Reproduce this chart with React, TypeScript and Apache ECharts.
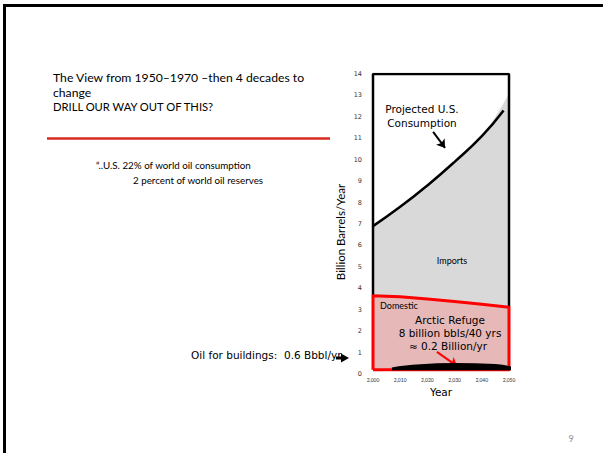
import React, { useEffect, useRef } from "react";
import * as echarts from "echarts";

// ---- data ----
const consumptionYears = [2000, 2010, 2020, 2030, 2040, 2048];
const consumptionValues = [6.9, 7.8, 8.8, 9.9, 11.1, 12.3];
const totalYears = [2000, 2010, 2020, 2030, 2040, 2050];
const totalValues = [6.9, 7.8, 8.8, 9.9, 11.1, 13.1];
const domesticYears = [2000, 2010, 2020, 2030, 2040, 2050];
const domesticValues = [3.65, 3.6, 3.5, 3.38, 3.25, 3.12];
const domesticFloor = 0.2;
const refugeYears = [2007, 2012, 2030, 2045, 2052];
const refugeValues = [0.24, 0.33, 0.44, 0.4, 0.22];
const xTicks = [2000, 2010, 2020, 2030, 2040, 2050];
const yMax = 14;

const pairs = (xs: number[], ys: number[]) => xs.map((x, i) => [x, ys[i]]);

export default function App() {
  const ref = useRef<HTMLDivElement>(null);
  useEffect(() => {
    const chart = echarts.init(ref.current!, undefined, { renderer: "svg" });
    const hand = "DejaVu Sans";
    const sans = "Lato";
    const domPoly = [
      [xTicks[0], domesticFloor],
      ...pairs(domesticYears, domesticValues),
      [xTicks[xTicks.length - 1], domesticFloor],
      [xTicks[0], domesticFloor],
    ];
    const boxPoly = [
      [xTicks[0], domesticValues[0]],
      [xTicks[0], yMax],
      [xTicks[xTicks.length - 1], yMax],
      [xTicks[xTicks.length - 1], domesticValues[domesticValues.length - 1]],
    ];
    const txt = (x: number, y: number, text: string, fontSize: number, fontFamily: string, align = "left", extra: any = {}) => ({
      type: "text",
      x,
      y,
      z: 100,
      ...extra,
      style: { text, fontSize, fontFamily, fill: "#000", align, verticalAlign: "middle" },
    });
    chart.setOption({
      animation: false,
      backgroundColor: "#fff",
      grid: { left: 373, top: 74, width: 136, height: 300 },
      xAxis: {
        type: "value",
        min: 2000,
        max: 2050,
        interval: 10,
        axisLine: { show: false },
        axisTick: { show: false },
        splitLine: { show: false },
        axisLabel: { fontSize: 5, fontFamily: sans, color: "#333", margin: 3 },
        name: "Year",
        nameLocation: "middle",
        nameGap: 11,
        nameTextStyle: { fontSize: 10.5, fontFamily: hand, color: "#000" },
      },
      yAxis: {
        type: "value",
        min: 0,
        max: yMax,
        interval: 1,
        axisLine: { show: false },
        axisTick: { show: false },
        splitLine: { show: false },
        axisLabel: { fontSize: 6.5, fontFamily: hand, color: "#333", margin: 11 },
      },
      series: [
        {
          type: "line",
          data: pairs(totalYears, totalValues),
          smooth: true,
          symbol: "none",
          lineStyle: { width: 0, opacity: 0 },
          areaStyle: { color: "#d9d9d9", opacity: 1, origin: domesticFloor },
          silent: true,
          z: 1,
        },
        {
          type: "line",
          data: boxPoly,
          symbol: "none",
          lineStyle: { color: "#000", width: 2.5 },
          silent: true,
          z: 2,
        },
        {
          type: "line",
          data: pairs(domesticYears, domesticValues),
          symbol: "none",
          lineStyle: { width: 0, opacity: 0 },
          areaStyle: { color: "#e6b9b8", opacity: 1, origin: domesticFloor },
          silent: true,
          z: 3,
        },
        {
          type: "line",
          data: domPoly,
          symbol: "none",
          lineStyle: { color: "#ff0000", width: 3, join: "round" },
          silent: true,
          z: 4,
        },
        {
          type: "line",
          data: pairs(consumptionYears, consumptionValues),
          smooth: true,
          symbol: "none",
          lineStyle: { color: "#000", width: 2.5 },
          silent: true,
          z: 5,
        },
        {
          type: "line",
          data: pairs(refugeYears, refugeValues),
          smooth: true,
          symbol: "none",
          clip: false,
          lineStyle: { color: "#000", width: 3 },
          areaStyle: { color: "#000", opacity: 1, origin: 0.17 },
          silent: true,
          z: 6,
          markLine: {
            symbol: ["none", "arrow"],
            symbolSize: 8,
            silent: true,
            label: { show: false },
            emphasis: { disabled: true },
            animation: false,
            lineStyle: { color: "#000", width: 2, type: "solid" },
            data: [
              [{ coord: [2022.1, 11.3] }, { coord: [2026.5, 10.55] }],
              [
                { coord: [2023.5, 1.03], lineStyle: { color: "#ff0000", width: 2, type: "solid" }, itemStyle: { color: "#ff0000" } },
                { coord: [2030.9, 0.37], itemStyle: { color: "#ff0000" } },
              ],
            ],
          },
        },
      ],
      graphic: [
        { type: "line", shape: { x1: 3, y1: 5.5, x2: 603, y2: 5.5 }, style: { stroke: "#000", lineWidth: 3 } },
        { type: "line", shape: { x1: 4.5, y1: 4, x2: 4.5, y2: 453 }, style: { stroke: "#000", lineWidth: 3 } },
        { type: "line", shape: { x1: 47, y1: 138.5, x2: 330, y2: 138.5 }, style: { stroke: "#d42a1f", lineWidth: 2.5 } },
        txt(53, 77.5, "The View from 1950\u20131970 \u2013then 4 decades to", 12.2, sans),
        txt(53, 92.5, "change", 12.2, sans),
        txt(53, 106.5, "DRILL OUR WAY OUT OF THIS?", 11.2, sans),
        txt(96, 165, "\u201C..U.S. 22% of world oil consumption", 9.8, sans),
        txt(133, 180, "2 percent of world oil reserves", 9.8, sans),
        txt(422, 109, "Projected U.S.", 10.5, hand, "center"),
        txt(422, 123, "Consumption", 10.5, hand, "center"),
        txt(452, 260, "Imports", 9, sans, "center"),
        txt(380, 305, "Domestic", 9, sans),
        txt(450, 320, "Arctic Refuge", 10.5, hand, "center"),
        txt(450, 333, "8 billion bbls/40 yrs", 10.5, hand, "center"),
        txt(448, 346, "\u2248 0.2 Billion/yr", 10.5, hand, "center"),
        txt(191, 355, "Oil for buildings:  0.6 Bbbl/yr", 10.5, hand),
        txt(340, 232, "Billion Barrels/Year", 11.5, sans, "center", { rotation: Math.PI / 2 }),
        { type: "line", z: 100, shape: { x1: 336, y1: 358, x2: 343, y2: 358 }, style: { stroke: "#000", lineWidth: 3 } },
        { type: "polygon", z: 100, shape: { points: [[341, 353.5], [349, 358], [341, 362.5]] }, style: { fill: "#000" } },
        { type: "text", x: 571, y: 438, z: 100, style: { text: "9", fontSize: 9, fontFamily: sans, fill: "#8c8c8c", align: "center", verticalAlign: "middle" } },
      ],
    });
    return () => chart.dispose();
  }, []);
  return (
    <div
      ref={ref}
      style={{ position: "fixed", left: 0, top: 0, width: 603, height: 453, background: "#fff" }}
    />
  );
}
